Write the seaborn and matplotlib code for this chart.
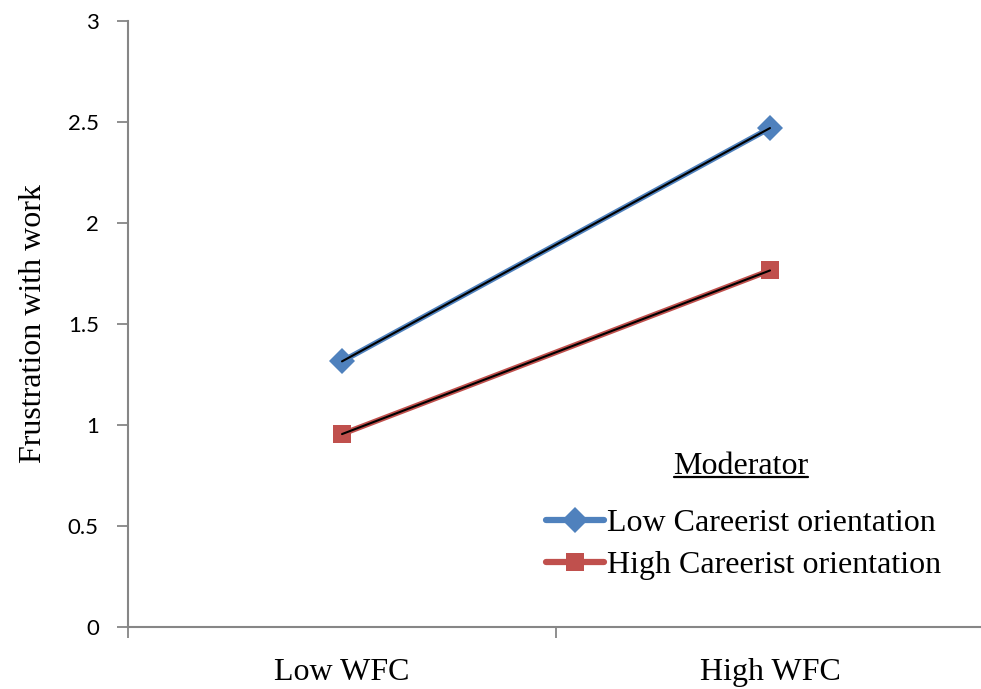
import matplotlib
matplotlib.use("Agg")
import matplotlib.pyplot as plt
import seaborn as sns
import pandas as pd
from matplotlib.lines import Line2D

categories = ["Low WFC", "High WFC"]
series_names = ["Low Careerist orientation", "High Careerist orientation"]
low_careerist = [1.315, 2.47]
high_careerist = [0.955, 1.765]
y_ticks = [0, 0.5, 1, 1.5, 2, 2.5, 3]
y_tick_labels = ["0", "0.5", "1", "1.5", "2", "2.5", "3"]
legend_title = "Moderator"
colors = ["#4F81BD", "#C0504D"]
marker_shapes = ["D", "s"]

sns.set_theme(style="white")
plt.rcParams['font.family'] = ['Liberation Serif', 'DejaVu Serif']
plt.rcParams['text.color'] = 'black'
plt.rcParams['axes.labelcolor'] = 'black'
plt.rcParams['xtick.labelcolor'] = 'black'
plt.rcParams['ytick.labelcolor'] = 'black'

df = pd.DataFrame({
    "WFC": categories * 2,
    "value": low_careerist + high_careerist,
    "Moderator": [series_names[0]] * 2 + [series_names[1]] * 2,
})

fig = plt.figure(figsize=(9.81, 6.89), dpi=100)
ax = fig.add_axes([128 / 981, 62 / 689, 856 / 981, 606 / 689])

palette = dict(zip(series_names, colors))
markers = dict(zip(series_names, marker_shapes))
sns.lineplot(data=df, x="WFC", y="value", hue="Moderator", style="Moderator",
             markers=markers, dashes=False, palette=palette, linewidth=4,
             markersize=13, markeredgewidth=0, ax=ax, legend=False, sort=False)
sns.lineplot(data=df, x="WFC", y="value", hue="Moderator",
             palette=["black", "black"], linewidth=1.5, ax=ax, legend=False, sort=False)

ax.set_xlim(-0.5, 1.5)
ax.set_ylim(0, 3)
ax.set_yticks(y_ticks)
ax.set_yticklabels(y_tick_labels, fontfamily="Lato", fontsize=16, color="black")
ax.set_xticks([0, 1])
ax.set_xticklabels(categories, fontsize=23, color="black")
ax.set_xticks([-0.5, 0.5, 1.5], minor=True)
ax.tick_params(axis="x", which="major", bottom=True, length=0, pad=22)
ax.tick_params(axis="x", which="minor", bottom=True, length=8, width=1.3,
               color="#868686", direction="out")
ax.tick_params(axis="y", which="major", left=True, length=8, width=1.3,
               color="#868686", direction="out", pad=13)
ax.set_xlabel("")
ax.set_ylabel("Frustration with work", fontsize=23, labelpad=14, color="black")

for side in ["top", "right"]:
    ax.spines[side].set_visible(False)
for side in ["left", "bottom"]:
    ax.spines[side].set_color("#868686")
    ax.spines[side].set_linewidth(1.5)

handles = [Line2D([0], [0], color=c, lw=4.5, marker=m, markersize=13, markeredgewidth=0)
           for c, m in zip(colors, marker_shapes)]
leg = ax.legend(handles, series_names,
                loc="upper left", bbox_to_anchor=(546 / 981, 1 - 509 / 689),
                bbox_transform=fig.transFigure, frameon=False, fontsize=23,
                handlelength=1.8, handletextpad=0.1,
                labelspacing=0.38, borderpad=0, borderaxespad=0)
for t in leg.get_texts():
    t.set_color("black")

title = fig.text(741 / 981, 1 - 466 / 689, legend_title, fontsize=23,
                 ha="center", va="center", color="black")

# underline the legend title
fig.canvas.draw()
renderer = fig.canvas.get_renderer()
tb = title.get_window_extent(renderer)
inv = fig.transFigure.inverted()
(x0, y0), (x1, y1) = inv.transform([(tb.x0 + 1, tb.y0 + 4), (tb.x1 - 1, tb.y0 + 4)])
fig.add_artist(Line2D([x0, x1], [y0, y1], color="black", lw=1.6, transform=fig.transFigure))

fig.savefig("out.png", dpi=100)
